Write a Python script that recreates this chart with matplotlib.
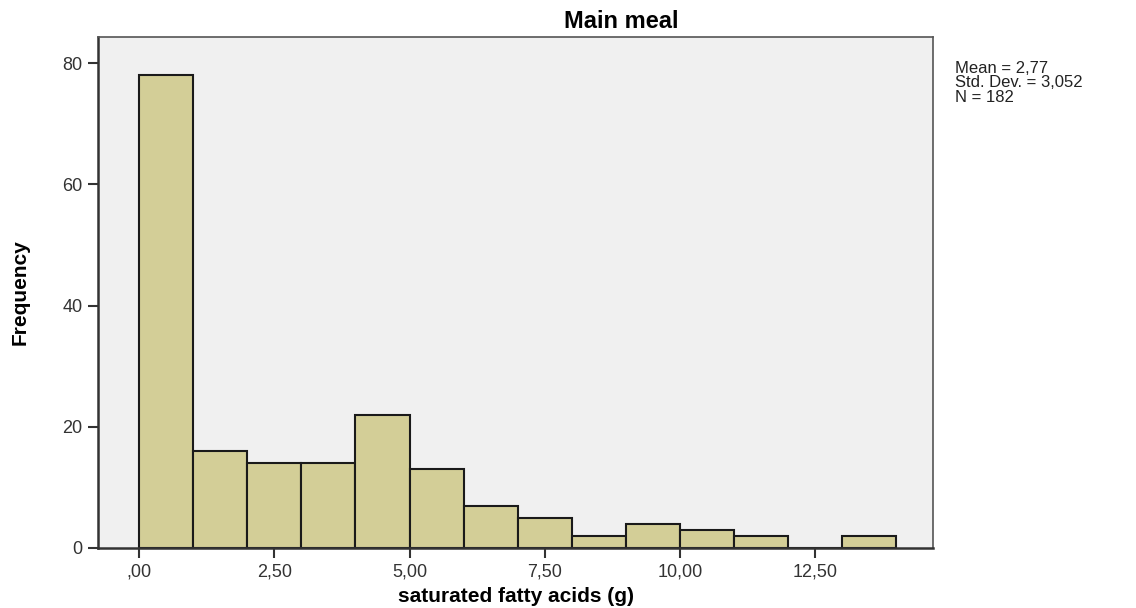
import matplotlib
matplotlib.use('Agg')
import matplotlib.pyplot as plt
import numpy as np

# histogram bins (width 1 g) and frequencies
bin_edges = np.arange(0, 15, 1)
counts = [78, 16, 14, 14, 22, 13, 7, 5, 2, 4, 3, 2, 0, 2]
x_ticks = [0, 2.5, 5, 7.5, 10, 12.5]
x_tick_labels = [',00', '2,50', '5,00', '7,50', '10,00', '12,50']
y_ticks = [0, 20, 40, 60, 80]
stats_text = 'Mean = 2,77\nStd. Dev. = 3,052\nN = 182'

plt.rcParams['font.family'] = ['Liberation Sans', 'DejaVu Sans']

fig = plt.figure(figsize=(11.36, 6.08), dpi=100)
ax = fig.add_axes([98 / 1136, 1 - 548 / 608, (933 - 98) / 1136, (548 - 37) / 608])
ax.set_facecolor('#f0f0f0')

ax.bar(bin_edges[:-1], counts, width=1, align='edge',
       color='#d3ce97', edgecolor='#1a1a1a', linewidth=1.5)

ax.set_xlim(-0.76, 14.68)
ax.set_ylim(0, 84.3)
ax.set_xticks(x_ticks)
ax.set_xticklabels(x_tick_labels)
ax.set_yticks(y_ticks)
ax.tick_params(axis='both', direction='out', length=7, width=1.5,
               labelsize=13, colors='#333333', pad=4)

for side in ['left', 'bottom']:
    ax.spines[side].set_color('#333333')
    ax.spines[side].set_linewidth(1.8)
for side in ['top', 'right']:
    ax.spines[side].set_color('#555555')
    ax.spines[side].set_linewidth(1.2)

ax.set_xlabel('saturated fatty acids (g)', fontsize=15, fontweight='bold')
ax.xaxis.set_label_coords(0.5, -(597 - 548) / 511, transform=ax.transAxes)
ax.xaxis.label.set_va('center')
ax.set_ylabel('Frequency', fontsize=15, fontweight='bold')
ax.yaxis.set_label_coords(-(98 - 20) / 835, (548 - 292) / 511, transform=ax.transAxes)
ax.yaxis.label.set_va('center')

fig.text(621 / 1136, 1 - 22 / 608, 'Main meal', fontsize=17, fontweight='bold',
         ha='center', va='center')
fig.text(955 / 1136, 1 - 61 / 608, stats_text, fontsize=12, ha='left', va='top',
         linespacing=0.95, color='#222222')

fig.savefig('out.png', dpi=100)
